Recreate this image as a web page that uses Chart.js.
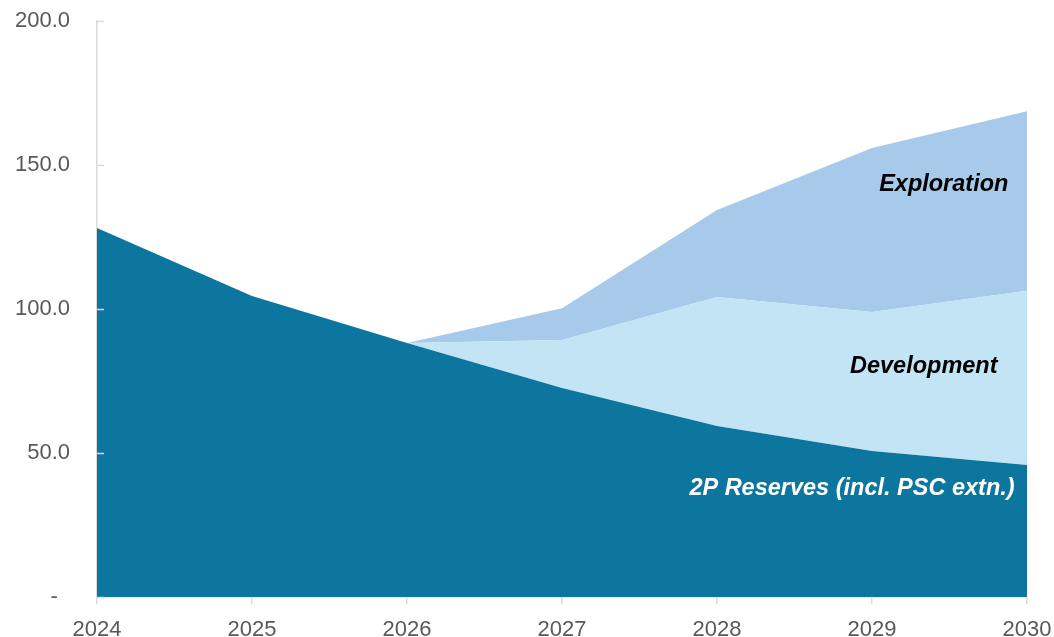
<!DOCTYPE html>
<html>
<head>
<meta charset="utf-8">
<script src="https://cdn.jsdelivr.net/npm/chart.js@4"></script>
<style>
  html, body { margin: 0; padding: 0; background: #fff; }
  #wrap { width: 1054px; height: 637px; }
</style>
</head>
<body>
<div id="wrap"><canvas id="reserveChart" width="1054" height="637"></canvas></div>
<script>
const years = ['2024', '2025', '2026', '2027', '2028', '2029', '2030'];
const reserves2P = [128.1, 104.5, 88.2, 72.6, 59.4, 50.7, 45.8];
const development = [0, 0, 0, 16.6, 44.8, 48.3, 60.5];
const exploration = [0, 0, 0, 11.1, 30.2, 56.9, 62.4];
const yTicks = [0, 50, 100, 150, 200];

// labels placed inside the areas, in data units (x index, y value)
const areaLabels = [
  { text: 'Exploration', x: 5.88, y: 143.1, color: '#000000' },
  { text: 'Development', x: 5.81, y: 79.9, color: '#000000' },
  { text: '2P Reserves (incl. PSC extn.)', x: 5.92, y: 37.8, color: '#ffffff' }
];

const axisGrey = '#d9d9d9';
const tickText = '#595959';
const fontFamily = '"Liberation Sans", Arial, sans-serif';

const innerTicks = {
  id: 'innerTicks',
  afterDatasetsDraw(chart) {
    const { ctx, chartArea, scales } = chart;
    ctx.save();
    ctx.strokeStyle = axisGrey;
    ctx.lineWidth = 1.5;
    yTicks.forEach(v => {
      const py = Math.round(scales.y.getPixelForValue(v)) + 0.5;
      ctx.beginPath();
      ctx.moveTo(chartArea.left, py);
      ctx.lineTo(chartArea.left + 7, py);
      ctx.stroke();
    });
    ctx.font = 'italic bold 23.5px ' + fontFamily;
    ctx.textAlign = 'right';
    ctx.textBaseline = 'middle';
    areaLabels.forEach(l => {
      ctx.fillStyle = l.color;
      ctx.fillText(l.text, scales.x.getPixelForValue(l.x), scales.y.getPixelForValue(l.y));
    });
    ctx.restore();
  }
};

const ctx = document.getElementById('reserveChart').getContext('2d');
new Chart(ctx, {
  type: 'line',
  data: {
    labels: years,
    datasets: [
      {
        label: '2P Reserves (incl. PSC extn.)',
        data: reserves2P,
        backgroundColor: '#0c769e',
        borderWidth: 0,
        pointRadius: 0,
        fill: 'origin'
      },
      {
        label: 'Development',
        data: development,
        backgroundColor: '#c2e4f4',
        borderWidth: 0,
        pointRadius: 0,
        fill: '-1'
      },
      {
        label: 'Exploration',
        data: exploration,
        backgroundColor: '#a7c9ea',
        borderWidth: 0,
        pointRadius: 0,
        fill: '-1'
      }
    ]
  },
  options: {
    responsive: false,
    animation: false,
    layout: { padding: { top: 21, right: 27, left: 0, bottom: 0 } },
    plugins: {
      legend: { display: false },
      tooltip: { enabled: false }
    },
    scales: {
      x: {
        offset: false,
        grid: {
          drawOnChartArea: false,
          drawTicks: true,
          tickLength: 7,
          color: axisGrey,
          lineWidth: 1.5
        },
        border: { color: axisGrey, width: 1.5 },
        ticks: {
          color: tickText,
          padding: 13,
          maxRotation: 0,
          font: { family: fontFamily, size: 22 }
        },
        afterFit(scale) {
          scale.height = 40;
          scale.paddingLeft = 0;
          scale.paddingRight = 0;
        }
      },
      y: {
        stacked: true,
        min: 0,
        max: 200,
        grid: { display: false, drawTicks: false },
        border: { color: axisGrey, width: 1.5 },
        afterBuildTicks(scale) { scale.ticks = yTicks.map(v => ({ value: v })); },
        ticks: {
          color: tickText,
          padding: 27,
          font: { family: fontFamily, size: 22 },
          callback: v => v === 0 ? '-  ' : v.toFixed(1)
        },
        afterFit(scale) {
          scale.width = 97;
          scale.paddingTop = 0;
          scale.paddingBottom = 0;
        }
      }
    }
  },
  plugins: [innerTicks]
});
</script>
</body>
</html>
